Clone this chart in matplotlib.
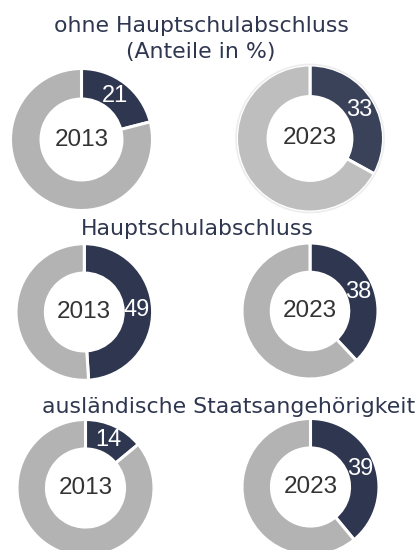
import numpy as np
import matplotlib
matplotlib.use("Agg")
import matplotlib.pyplot as plt

plt.rcParams['font.family'] = ['Liberation Sans', 'DejaVu Sans']

# ---- data ----
titles = ["ohne Hauptschulabschluss\n(Anteile in %)", "Hauptschulabschluss",
          "ausländische Staatsangehörigkeit"]
years = ["2013", "2023"]
share_2013 = [21, 49, 14]
share_2023 = [33, 38, 39]

W, H = 417, 550
fig = plt.figure(figsize=(W / 100, H / 100), dpi=100)
ax = fig.add_axes([0, 0, 1, 1])
ax.set_xlim(0, W)
ax.set_ylim(0, H)
ax.set_aspect('equal')
ax.axis('off')

DARK = '#2F3750'
GRAY = '#B3B3B3'
TITLE_C = '#2F3750'

# layout (pixel coords, y from top)
title_pos = [(201, 39), (197, 229), (229, 407)]
centers = [[(81.5, 139.5), (310, 138.5)],
           [(84.3, 312), (310, 311)],
           [(85.5, 488), (310.5, 487)]]
radii = [[71, 73.5], [68.3, 68], [68.5, 68.5]]

for i, t in enumerate(titles):
    x, y = title_pos[i]
    ax.text(x, H - y, t, ha='center', va='center', fontsize=15.8,
            family=['DejaVu Sans'], color=TITLE_C, linespacing=1.32)

for i in range(3):
    for j, vals in enumerate([share_2013, share_2023]):
        v = vals[i]
        cx, cy = centers[i][j]
        R = radii[i][j]
        dark, gray = DARK, GRAY
        if i == 0 and j == 1:
            dark, gray = '#3A4259', '#BEBEBE'
        wedges, _ = ax.pie([v, 100 - v], colors=[dark, gray], startangle=90,
                           counterclock=False, center=(cx, H - cy), radius=R,
                           wedgeprops=dict(width=R * 0.43, edgecolor='white',
                                           linewidth=2.2), frame=True)
        if i == 0 and j == 1:
            circ = plt.Circle((cx, H - cy), R + 0.5, fill=False,
                              edgecolor='#EDEDED', linewidth=1.2)
            ax.add_patch(circ)
        w = wedges[0]
        mid = np.deg2rad((w.theta1 + w.theta2) / 2)
        rl = R * 0.77
        ax.text(cx + rl * np.cos(mid), H - cy + rl * np.sin(mid), str(v),
                ha='center', va='center', fontsize=17, color='white')
        ax.text(cx, H - cy, years[j], ha='center', va='center',
                fontsize=17.5, color='#333333')

ax.set_xlim(0, W)
ax.set_ylim(0, H)
ax.axis('off')
fig.savefig('out.png', dpi=100)
